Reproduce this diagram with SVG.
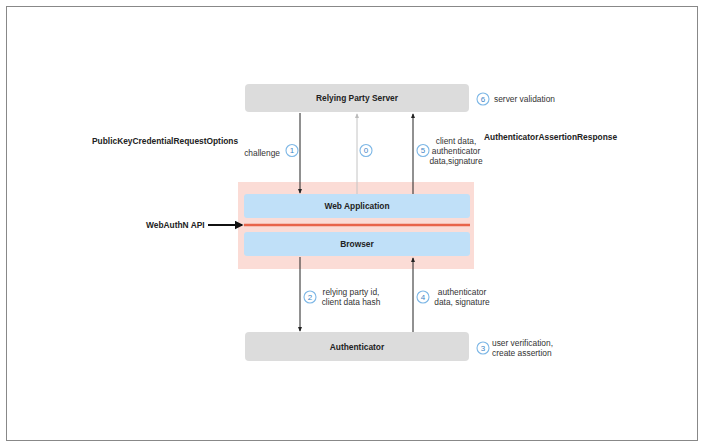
<svg xmlns="http://www.w3.org/2000/svg" width="701" height="446" viewBox="0 0 701 446">
<style>
text{font-family:"Liberation Sans",Arial,sans-serif;fill:#222}
.b{font-weight:bold;font-size:8.4px}
.r{font-size:8.4px;fill:#333}
.gray{fill:#dcdcdc}
.blue{fill:#c0e0f8}
.num circle{fill:#fff;stroke:#7db7e6;stroke-width:1.1}
.num text{font-size:8px;fill:#3d85c6;text-anchor:middle}
.c{stroke:#222;stroke-width:1;fill:none}
</style>
<defs>
<marker id="ah" viewBox="0 0 6 6" refX="5" refY="3" markerWidth="5" markerHeight="5" orient="auto"><path d="M0,0.5 L6,3 L0,5.5 Z" fill="#222"/></marker>
<marker id="ahg" viewBox="0 0 6 6" refX="5" refY="3" markerWidth="5" markerHeight="5" orient="auto"><path d="M0,0.5 L6,3 L0,5.5 Z" fill="#bbb"/></marker>
<marker id="ahb" viewBox="0 0 6 6" refX="5" refY="3" markerWidth="4.5" markerHeight="4.5" orient="auto"><path d="M0,0 L6,3 L0,6 Z" fill="#111"/></marker>
</defs>
<rect x="0" y="0" width="701" height="446" fill="#fff"/>
<rect x="6.5" y="6.5" width="691" height="434" fill="none" stroke="#888" stroke-width="1"/>

<g id="client-area">
<rect x="238" y="182" width="236" height="87" fill="#fbdcd6"/>
</g>
<g id="server">
<rect class="gray" x="245" y="84" width="224" height="28" rx="4"/>
<text class="b" x="357" y="101" text-anchor="middle">Relying Party Server</text>
</g>
<g id="webapp">
<rect class="blue" x="244" y="194" width="226" height="24" rx="3"/>
<text class="b" x="357" y="209" text-anchor="middle">Web Application</text>
</g>
<g id="browser">
<rect class="blue" x="244" y="232" width="226" height="24" rx="3"/>
<text class="b" x="357" y="247" text-anchor="middle">Browser</text>
</g>
<g id="authenticator">
<rect class="gray" x="245" y="332" width="224" height="29" rx="4"/>
<text class="b" x="357" y="350" text-anchor="middle">Authenticator</text>
</g>
<g id="webauthn-api">
<line x1="244" y1="225" x2="470" y2="225" stroke="#e8644a" stroke-width="2.5"/>
<text class="b" x="146" y="228">WebAuthN API</text>
</g>

<g id="connectors">
<line class="c" x1="300" y1="113" x2="300" y2="193" marker-end="url(#ah)"/>
<line x1="357" y1="194" x2="357" y2="114" stroke="#c4c4c4" stroke-width="1" marker-end="url(#ahg)"/>
<line class="c" x1="413" y1="194" x2="413" y2="114" marker-end="url(#ah)"/>
<line class="c" x1="300" y1="257" x2="300" y2="331" marker-end="url(#ah)"/>
<line class="c" x1="413" y1="332" x2="413" y2="258" marker-end="url(#ah)"/>
<line x1="208" y1="225" x2="242" y2="225" stroke="#111" stroke-width="2" marker-end="url(#ahb)"/>
</g>

<g id="labels">
<text class="b" x="92" y="143.5">PublicKeyCredentialRequestOptions</text>
<text class="b" x="484" y="139.5">AuthenticatorAssertionResponse</text>
<text class="r" x="280" y="156" text-anchor="end">challenge</text>
<text class="r" x="456" y="144" text-anchor="middle">client data,</text>
<text class="r" x="456" y="154" text-anchor="middle">authenticator</text>
<text class="r" x="456" y="164" text-anchor="middle">data,signature</text>
<text class="r" x="494" y="102">server validation</text>
<text class="r" x="351" y="295" text-anchor="middle">relying party id,</text>
<text class="r" x="351" y="305" text-anchor="middle">client data hash</text>
<text class="r" x="462" y="295" text-anchor="middle">authenticator</text>
<text class="r" x="462" y="305" text-anchor="middle">data, signature</text>
<text class="r" x="492" y="346">user verification,</text>
<text class="r" x="492" y="356">create assertion</text>
</g>

<g id="steps">
<g class="num"><circle cx="292" cy="150.5" r="6"/><text x="292" y="153.3">1</text></g>
<g class="num"><circle cx="366" cy="150.5" r="6"/><text x="366" y="153.3">0</text></g>
<g class="num"><circle cx="423" cy="150.5" r="6"/><text x="423" y="153.3">5</text></g>
<g class="num"><circle cx="483" cy="99" r="6"/><text x="483" y="101.8">6</text></g>
<g class="num"><circle cx="310" cy="297" r="6"/><text x="310" y="299.8">2</text></g>
<g class="num"><circle cx="423" cy="297" r="6"/><text x="423" y="299.8">4</text></g>
<g class="num"><circle cx="483" cy="348" r="6"/><text x="483" y="350.8">3</text></g>
</g>
</svg>
